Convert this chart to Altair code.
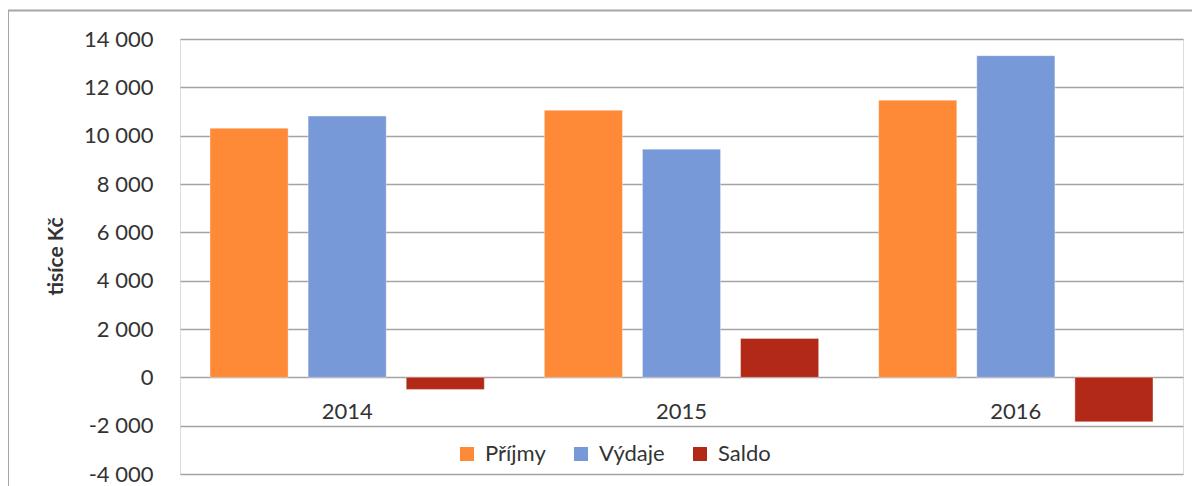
import altair as alt
import pandas as pd

years = ["2014", "2015", "2016"]
series = ["Příjmy", "Výdaje", "Saldo"]
prijmy = [10310, 11050, 11470]
vydaje = [10810, 9440, 13310]
saldo = [-500, 1610, -1840]
colors = ["#FE8937", "#7799D7", "#B22A17"]
y_ticks = [-4000, -2000, 0, 2000, 4000, 6000, 8000, 10000, 12000, 14000]

rows = []
for i, yr in enumerate(years):
    for name, vals in zip(series, [prijmy, vydaje, saldo]):
        rows.append({"rok": yr, "serie": name, "hodnota": vals[i]})
df = pd.DataFrame(rows)
df_years = pd.DataFrame({"rok": years})

FONT = "Lato"
TXT = "#333333"

x_enc = alt.X("rok:N", sort=years, axis=None,
              scale=alt.Scale(paddingInner=0, paddingOuter=0))
y_scale = alt.Scale(domain=[-4000, 14000], nice=False, zero=False)

bars = alt.Chart(df).mark_bar(stroke="#ffffff", strokeOpacity=0.5, strokeWidth=0.7).encode(
    x=x_enc,
    xOffset=alt.XOffset("serie:N", sort=series,
                        scale=alt.Scale(paddingInner=0.204, paddingOuter=0.306)),
    y=alt.Y("hodnota:Q", scale=y_scale,
            axis=alt.Axis(values=y_ticks, title="tisíce Kč",
                          labelExpr="(datum.value < 0 ? '-' : '') + replace(format(abs(datum.value), ','), ',', ' ')",
                          labelFont=FONT, labelFontSize=22, labelColor=TXT,
                          labelPadding=27, ticks=False, domain=False,
                          grid=True, gridColor="#a3a3a3", gridWidth=1.6,
                          titleFont=FONT, titleFontSize=21, titleFontWeight="bold",
                          titleColor=TXT, titleAngle=-90, titleX=-124, titleY=217,
                          titleAlign="center", titleBaseline="middle")),
    color=alt.Color("serie:N", sort=series,
                    scale=alt.Scale(domain=series, range=colors),
                    legend=alt.Legend(orient="none", legendX=276, legendY=404,
                                      direction="horizontal", title=None,
                                      symbolType="square", symbolSize=196,
                                      symbolStrokeWidth=0,
                                      labelFont=FONT, labelFontSize=22,
                                      labelColor=TXT, labelOffset=7,
                                      columnPadding=24)),
)

labels = alt.Chart(df_years).mark_text(
    font=FONT, fontSize=22, color=TXT, baseline="middle", dy=35
).encode(
    x=x_enc,
    y=alt.YDatum(0, scale=y_scale),
    text="rok:N",
)

frame_df = pd.DataFrame({"k": [0]})
frame_top = alt.Chart(frame_df).mark_rule(color="#a6a6a6", strokeWidth=2).encode(
    x=alt.value(-172), x2=alt.value(1200), y=alt.value(-28.5))
frame_left = alt.Chart(frame_df).mark_rule(color="#a6a6a6", strokeWidth=2).encode(
    x=alt.value(-172), y=alt.value(-28.5), y2=alt.value(470))

chart = alt.layer(bars, labels, frame_top, frame_left).properties(
    width=1003, height=435,
    autosize=alt.AutoSizeParams(type="none"),
    padding={"left": 172, "top": 31, "right": 9, "bottom": 24},
).configure_view(stroke=None).configure(background="white")

chart.save("out.html", embed_options={"renderer": "svg", "actions": False})
